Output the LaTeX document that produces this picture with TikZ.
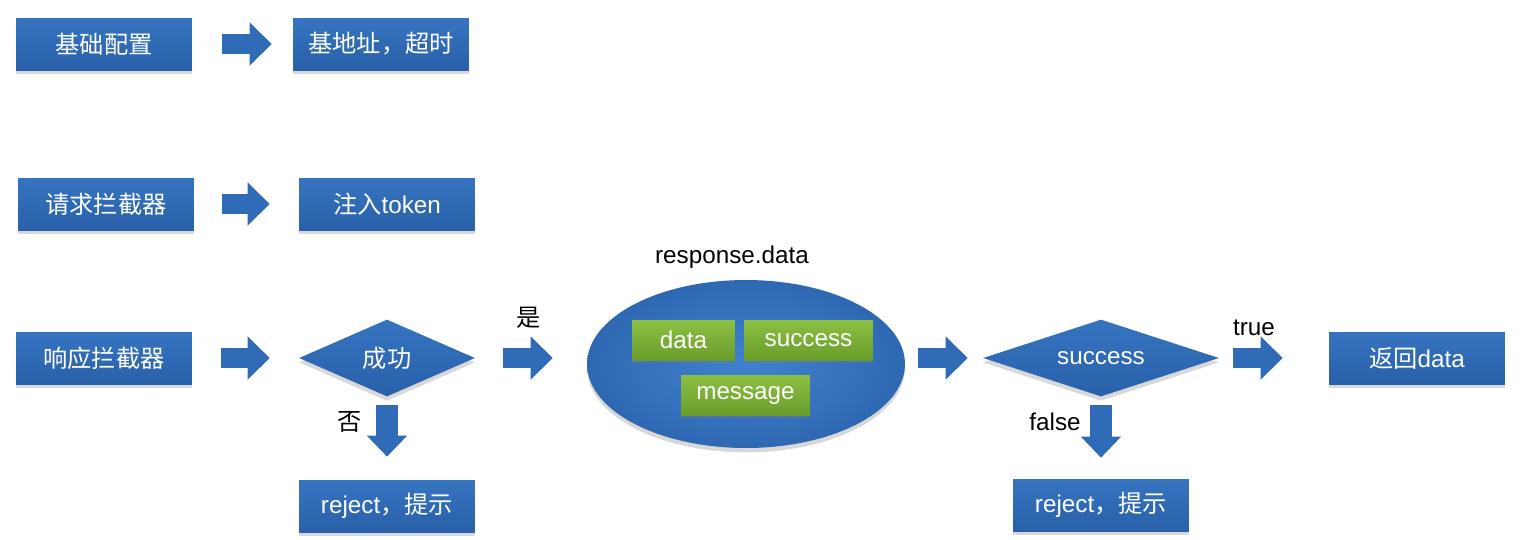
\documentclass[tikz,border=0pt]{standalone}
\usepackage{fontspec}
\setmainfont{Liberation Sans}
\newfontfamily\cjk{Noto Sans CJK SC}
\usetikzlibrary{arrows.meta,shapes.geometric,shadows}
\definecolor{boxtop}{HTML}{3674C0}
\definecolor{boxbot}{HTML}{2960A9}
\definecolor{arrowblue}{HTML}{2F6BB7}
\definecolor{greentop}{HTML}{8CC043}
\definecolor{greenbot}{HTML}{6A9C2B}
\definecolor{ellin}{HTML}{4082D0}
\definecolor{ellout}{HTML}{2F68B2}

\begin{document}
\begin{tikzpicture}[x=0.02cm, y=-0.02cm,
  every node/.style={font=\fontsize{13.8}{16}\selectfont},
  softshadow/.style={drop shadow={shadow xshift=0pt, shadow yshift=-2.5pt, opacity=0.3}},
  stepbox/.style={rectangle, minimum width=3.52cm, minimum height=1.04cm, inner sep=0pt,
    top color=boxtop, bottom color=boxbot, text=white, softshadow},
  decision/.style={diamond, minimum height=1.54cm, inner sep=0pt, shape aspect=3,
    top color=boxtop, bottom color=boxbot, text=white, softshadow},
  blob/.style={ellipse, minimum width=6.36cm, minimum height=3.36cm,
    inner color=ellin, outer color=ellout, softshadow},
  greenbox/.style={rectangle, minimum height=0.8cm, inner sep=0pt,
    top color=greentop, bottom color=greenbot, text=white,
    drop shadow={shadow xshift=0pt, shadow yshift=-1.5pt, opacity=0.3}},
  lbl/.style={text=black},
  hblock/.style={draw=arrowblue, line width=0.4cm, -{Triangle[length=0.44cm, width=0.84cm]}},
  vblock/.style={draw=arrowblue, line width=0.44cm, -{Triangle[length=0.42cm, width=0.78cm]}}]

  \fill[white] (0,0) rectangle (1522,539);
  \useasboundingbox (0,0) rectangle (1522,539);

  % Basic config row
  \node[stepbox] (cfg) at (104,44) {\cjk 基础配置};
  \node[stepbox] (base) at (381,44) {\cjk 基地址，超时};

  % Request interceptor row
  \node[stepbox] (req) at (106,204) {\cjk 请求拦截器};
  \node[stepbox] (tok) at (387,204) {{\cjk 注入}token};

  % Response interceptor row
  \node[stepbox] (resp) at (104,358) {\cjk 响应拦截器};
  \node[decision, minimum width=3.52cm, shape aspect=2.3] (ok) at (387,358) {\cjk 成功};
  \node[stepbox] (rej1) at (387,506) {reject{\cjk ，提示}};

  % response.data with its fields
  \node[blob] (body) at (746,364) {};
  \node[greenbox, minimum width=2.06cm] (fdata) at (683.5,340) {data};
  \node[greenbox, minimum width=2.58cm] (fsucc) at (808.5,340) {success};
  \node[greenbox, minimum width=2.58cm] (fmsg) at (745.5,395) {message};
  \node[lbl] (bodylbl) at (732,257) {response.data};

  \node[decision, minimum width=4.72cm, shape aspect=3.06] (flag) at (1101,358) {success};
  \node[stepbox] (ret) at (1417,358) {{\cjk 返回}data};
  \node[stepbox] (rej2) at (1101,505) {reject{\cjk ，提示}};

  % Branch labels
  \node[lbl] (yes) at (529,318) {\cjk 是};
  \node[lbl] (no) at (350,422) {\cjk 否};
  \node[lbl] (yestrue) at (1254,328) {true};
  \node[lbl] (nofalse) at (1055,422) {false};

  % Block arrows
  \draw[hblock, shorten <=0.6cm, shorten >=0.42cm] (cfg) -- (base);
  \draw[hblock, shorten <=0.56cm, shorten >=0.58cm] (req) -- (tok);
  \draw[hblock, shorten <=0.58cm, shorten >=0.58cm] (resp) -- (ok);
  \draw[hblock, shorten <=0.56cm, shorten >=0.68cm] (ok.east) -- (ok.east -| body.west);
  \draw[hblock, shorten <=0.26cm, shorten >=0.3cm] (flag.west -| body.east) -- (flag.west);
  \draw[hblock, shorten <=0.28cm, shorten >=0.92cm] (flag) -- (ret);
  \draw[vblock, shorten <=0.16cm, shorten >=0.46cm] (ok) -- (rej1);
  \draw[vblock, shorten <=0.16cm, shorten >=0.42cm] (flag) -- (rej2);
\end{tikzpicture}
\end{document}
